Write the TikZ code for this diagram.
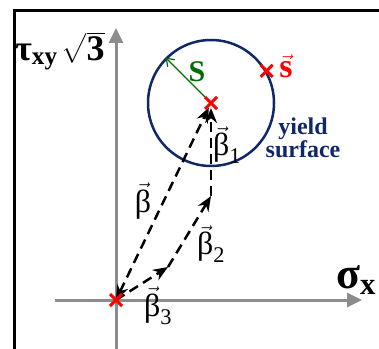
\documentclass[tikz,border=0pt]{standalone}
\usepackage{amsmath}
\usepackage{fontspec}
\setmainfont{Liberation Serif}
\usetikzlibrary{arrows.meta,shapes.misc}
\definecolor{surfblue}{RGB}{16,40,104}
\definecolor{axisgray}{RGB}{140,140,140}
\definecolor{radgreen}{RGB}{0,110,0}
\tikzset{
  axis/.style={
    draw=axisgray,
    line width=3pt,
    -{Triangle[length=15pt,width=14pt]}
  },
  surface/.style={
    circle,
    draw=surfblue,
    line width=2.5pt,
    minimum size=126pt,
    inner sep=0pt
  },
  xmark/.style={
    cross out,
    draw=red,
    line width=3pt,
    minimum size=9pt,
    inner sep=0pt
  },
  flow/.style={
    line width=2.5pt,
    dash pattern=on 10pt off 6pt,
    -{Stealth[length=15pt,width=12pt]}
  },
  radius/.style={
    draw=radgreen,
    line width=1.2pt,
    -{Straight Barb[length=7pt,width=10pt]}
  },
  lbl/.style={
    inner sep=0pt,
    font=\fontsize{32}{32}\selectfont
  },
  big/.style={
    inner sep=0pt,
    font=\fontsize{36}{36}\selectfont\bfseries
  }
}

\begin{document}
\begin{tikzpicture}[x=1pt,y=1pt]
  \useasboundingbox (0,0) rectangle (379,348);
  % frame
  \draw[line width=3pt] (14.5,-5) |- (390,337.5);

  % axes
  \coordinate (O) at (116,48);
  \coordinate (xl) at (55,48);
  \coordinate (xr) at (362,48);
  \coordinate (yb) at (116,-2);
  \coordinate (yt) at (116,320);
  \draw[axis] (xl) -- (xr);
  \draw[axis] (yb) -- (yt);
  \node[big] (tau) at (60,297) {$\text{τ}_{\text{xy}}\,\sqrt{\text{3}}$};
  \node[big, font=\fontsize{44}{44}\selectfont\bfseries] (sig) at (356,68) {$\text{σ}_{\text{x}}$};

  % yield surface
  \coordinate (C) at (211,245);
  \node[surface] (ys) at (C) {};
  \node[inner sep=0pt, font=\fontsize{24}{21}\selectfont\bfseries, text=surfblue, align=center]
    (ysl) at (303,210) {yield\\surface};
  \draw[radius] (C) -- (ys.135);
  \node[inner sep=0pt, font=\fontsize{30}{30}\selectfont\bfseries, text=radgreen] (rS) at (197,276) {S};
  \node[xmark] (sx) at (ys.30) {};
  \node[inner sep=0pt, font=\fontsize{34}{34}\selectfont\bfseries, text=red] (sl) at (286,282) {$\vec{\text{s}}$};

  % back stress path
  \coordinate (b3) at (168,81);
  \coordinate (b2) at (211,152);
  \draw[flow, {Stealth[length=15pt,width=12pt]}-{Stealth[length=15pt,width=12pt]}, shorten >=5pt] (O) -- (C);
  \draw[flow] (O) -- (b3);
  \draw[flow] (b3) -- (b2);
  \draw[flow, shorten >=5pt] (b2) -- (C);
  \node[xmark] (ox) at (O) {};
  \node[xmark] (cx) at (C) {};

  \node[lbl] (lb) at (143,147) {$\vec{\text{β}}$};
  \node[lbl] (lb1) at (227,203) {$\vec{\text{β}}_{\text{1}}$};
  \node[lbl] (lb2) at (211,104) {$\vec{\text{β}}_{\text{2}}$};
  \node[lbl] (lb3) at (158,42) {$\vec{\text{β}}_{\text{3}}$};
\end{tikzpicture}
\end{document}
